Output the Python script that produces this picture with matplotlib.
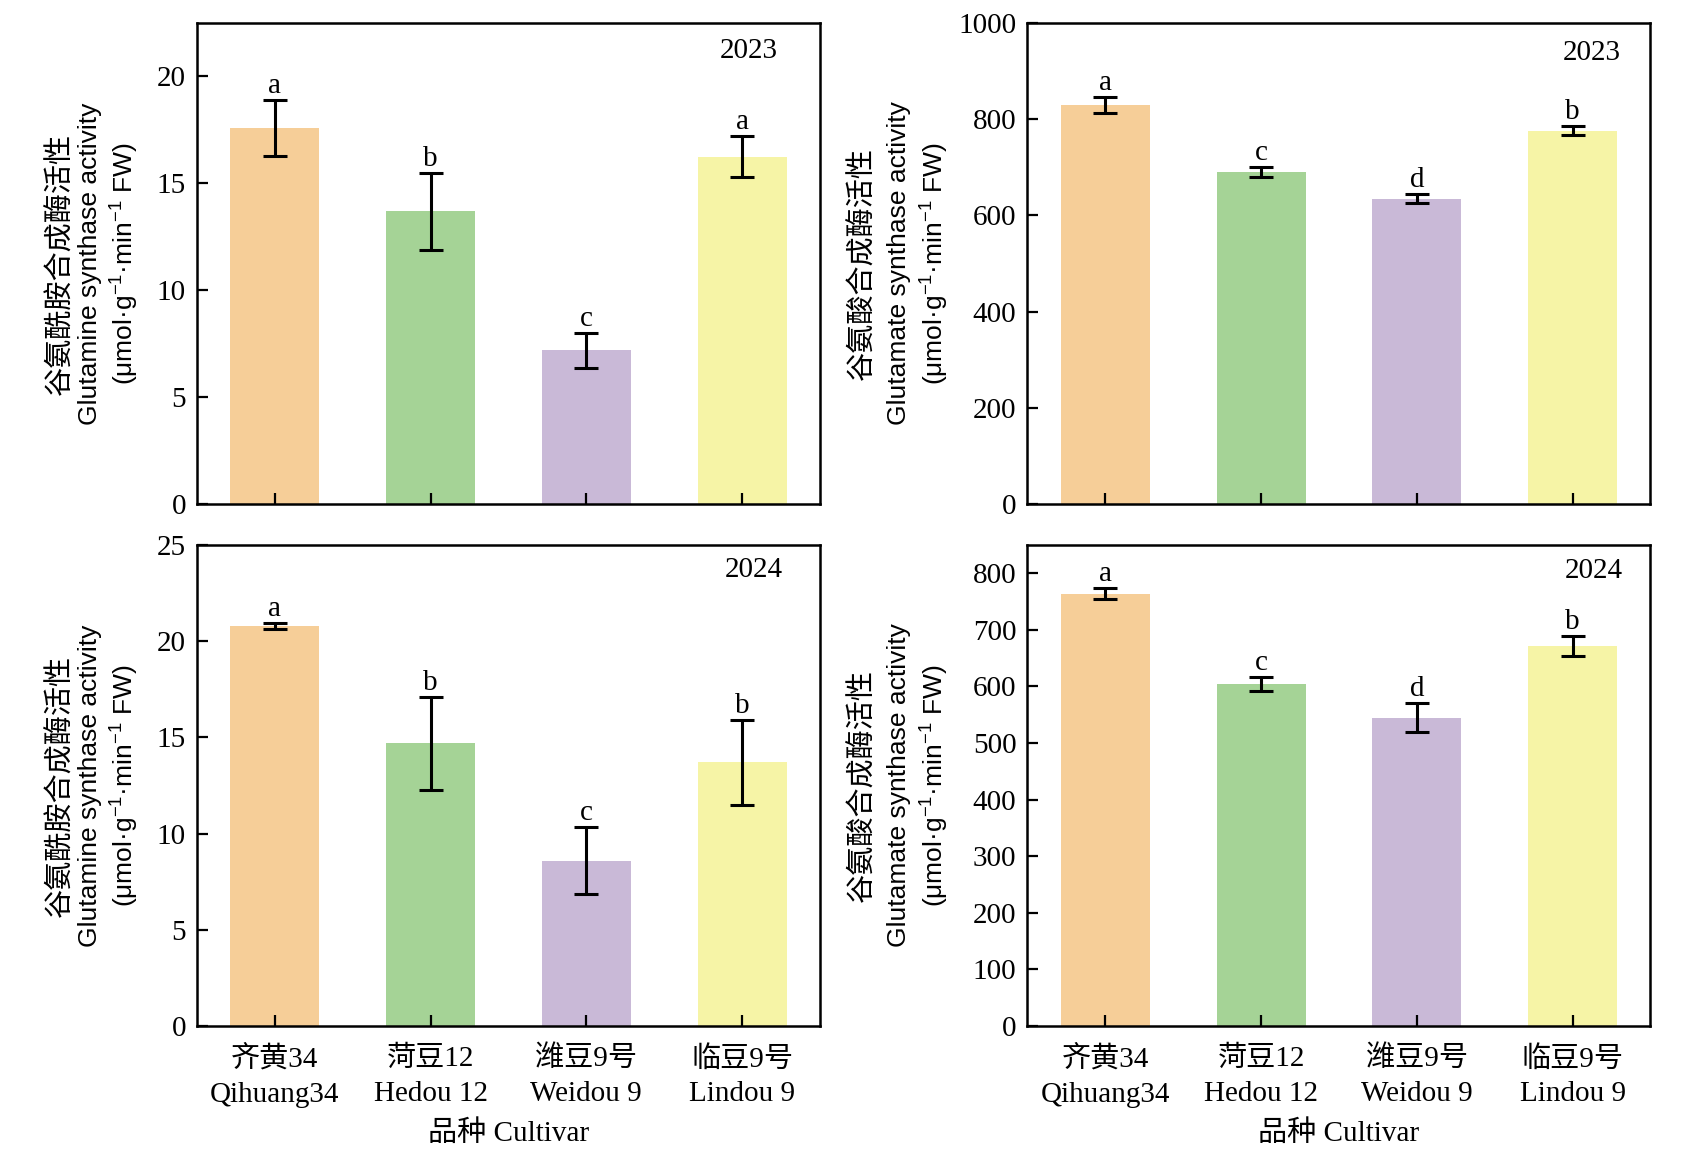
import numpy as np
import matplotlib
matplotlib.use("Agg")
import matplotlib.pyplot as plt

plt.rcParams['font.family'] = ['Liberation Serif', 'Noto Sans CJK SC']
plt.rcParams['mathtext.fontset'] = 'custom'
plt.rcParams['mathtext.rm'] = 'Liberation Sans'
plt.rcParams['mathtext.it'] = 'Liberation Sans:italic'

# data
cultivars_cn = ["齐黄34", "菏豆12", "潍豆9号", "临豆9号"]
cultivars_en = ["Qihuang34", "Hedou 12", "Weidou 9", "Lindou 9"]

gs_2023 = [17.6, 13.7, 7.2, 16.25]
gs_2023_err = [1.3, 1.8, 0.82, 0.97]
gs_2023_sig = ["a", "b", "c", "a"]

gogat_2023 = [829, 691, 635, 776]
gogat_2023_err = [17, 10.5, 9, 9]
gogat_2023_sig = ["a", "c", "d", "b"]

gs_2024 = [20.8, 14.7, 8.6, 13.7]
gs_2024_err = [0.15, 2.42, 1.75, 2.23]
gs_2024_sig = ["a", "b", "c", "b"]

gogat_2024 = [764, 604, 545, 672]
gogat_2024_err = [10, 12.5, 25.5, 17.5]
gogat_2024_sig = ["a", "c", "d", "b"]

colors = ["#F6CE98", "#A5D396", "#C9B9D7", "#F6F4A6"]

gs_label = ["谷氨酰胺合成酶活性", "Glutamine synthase activity"]
gogat_label = ["谷氨酸合成酶活性", "Glutamate synthase activity"]
unit_label = "(μmol·g$^{-1}$·min$^{-1}$ FW)"

W, H = 1683, 1167
fig = plt.figure(figsize=(W / 100, H / 100), dpi=100)

ax_w, ax_h = 623 / W, 481 / H
lefts = [197 / W, 1027.5 / W]
bottoms = [1 - 504 / H, 1 - 1026 / H]

panels = [
    (0, 0, gs_2023, gs_2023_err, gs_2023_sig, "2023", (0, 22.5), np.arange(0, 21, 5), gs_label, (-137, -107, -72), (0.886, 0.942)),
    (1, 0, gogat_2023, gogat_2023_err, gogat_2023_sig, "2023", (0, 1000), np.arange(0, 1001, 200), gogat_label, (-165, -128, -93), (0.905, 0.937)),
    (0, 1, gs_2024, gs_2024_err, gs_2024_sig, "2024", (0, 25), np.arange(0, 26, 5), gs_label, (-137, -107, -72), (0.894, 0.949)),
    (1, 1, gogat_2024, gogat_2024_err, gogat_2024_sig, "2024", (0, 850), np.arange(0, 801, 100), gogat_label, (-165, -128, -93), (0.909, 0.945)),
]

x = np.arange(len(cultivars_cn))

for col, row, vals, errs, sig, year, ylim, yticks, ylab, offs, ypos in panels:
    ax = fig.add_axes([lefts[col], bottoms[row], ax_w, ax_h])
    ax.bar(x, vals, width=0.57, color=colors, zorder=1)
    ax.errorbar(x, vals, yerr=errs, fmt='none', ecolor='black', elinewidth=2.2,
                capsize=8.5, capthick=2.2, zorder=2)
    for xi, v, e, s in zip(x, vals, errs, sig):
        ax.annotate(s, xy=(xi, v + e), xytext=(0, 7), textcoords='offset pixels',
                    ha='center', va='baseline', fontsize=21)
    ax.text(ypos[0], ypos[1], year, transform=ax.transAxes, ha='center', va='center', fontsize=21)

    ax.set_xlim(-0.5, 3.5)
    ax.set_ylim(*ylim)
    ax.set_yticks(yticks)
    ax.set_xticks(x)
    ax.tick_params(axis='both', direction='in', length=8, width=1.6)
    ax.tick_params(axis='y', labelsize=21, pad=8)
    if row == 1:
        ax.set_xticklabels([f"{c}\n{e}" for c, e in zip(cultivars_cn, cultivars_en)],
                           fontsize=21, linespacing=1.45)
        ax.tick_params(axis='x', pad=14)
        ax.set_xlabel("品种 Cultivar", fontsize=21, labelpad=9)
    else:
        ax.set_xticklabels([])
    for sp in ax.spines.values():
        sp.set_linewidth(1.8)

    # three-line y label
    ax.annotate(ylab[0], xy=(0, 0.5), xycoords='axes fraction', xytext=(offs[0], 0),
                textcoords='offset pixels', rotation=90, ha='center', va='center',
                fontsize=21, family=['Noto Sans CJK SC'])
    ax.annotate(ylab[1], xy=(0, 0.5), xycoords='axes fraction', xytext=(offs[1], 0),
                textcoords='offset pixels', rotation=90, ha='center', va='center',
                fontsize=19, family=['Liberation Sans'])
    ax.annotate(unit_label, xy=(0, 0.5), xycoords='axes fraction', xytext=(offs[2], 0),
                textcoords='offset pixels', rotation=90, ha='center', va='center',
                fontsize=19, family=['Liberation Sans'])

fig.savefig("out.png", dpi=100)
